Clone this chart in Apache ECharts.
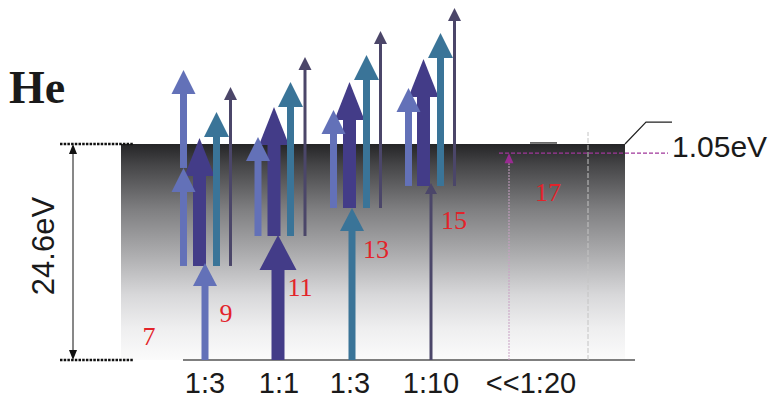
<!DOCTYPE html>
<html>
<head>
<meta charset="utf-8">
<script src="https://cdn.jsdelivr.net/npm/echarts@6/dist/echarts.min.js"></script>
<style>
  html, body { margin: 0; padding: 0; background: #fff; }
  #chart { width: 773px; height: 399px; }
</style>
</head>
<body>
<div id="chart"></div>
<script>
// Energy scale (eV) and threshold values
const ionization = 24.6;
const belowThreshold = 1.05;

// Field ratio categories under the diagram
const categories = ['1:3', '1:1', '1:3', '1:10', '<<1:20'];
const categoryPos = [8.4, 15.8, 22.9, 31.0, 41.0];

// First photon from the ground state (x position, top energy in eV, photon type)
const baseX = [8.4, 15.7, 23.1, 31.0, 38.8];
const baseTop = [11.05, 14.24, 17.31, 20.16, ionization - belowThreshold];
const baseKind = ['lb', 'db', 'teal', 'slate', 'mag'];

// Second photons, stacked on top of the first one
const stepX = [6.25, 6.25, 7.85, 9.55, 10.95,
               13.7, 15.3, 16.95, 18.4,
               21.25, 22.85, 24.55, 25.95,
               28.75, 30.25, 31.95, 33.35];
const stepFrom = [10.71, 21.87, 10.71, 10.71, 10.71,
                  14.12, 14.12, 14.12, 14.12,
                  17.31, 17.31, 17.31, 17.31,
                  19.82, 19.82, 19.82, 19.82];
const stepTo = [21.87, 33.03, 25.28, 28.24, 31.09,
                25.40, 28.81, 31.66, 34.51,
                28.47, 31.66, 34.74, 37.47,
                30.98, 34.28, 37.24, 40.09];
const stepKind = ['lb', 'lb', 'db', 'teal', 'slate',
                  'lb', 'db', 'teal', 'slate',
                  'lb', 'db', 'teal', 'slate',
                  'lb', 'db', 'teal', 'slate'];

// Harmonic order labels
const orders = ['7', '9', '11', '13', '15', '17'];
const orderX = [2.8, 10.5, 17.9, 25.5, 33.3, 42.7];
const orderE = [2.73, 5.24, 8.31, 12.64, 15.94, 19.13];

// Arrow styles
const kinds = ['lb', 'db', 'teal', 'slate', 'mag'];
const colors = { lb: '#6371b8', db: '#433c88', teal: '#3a7498', slate: '#4b4669', mag: '#9a2b92' };
const layer = { db: 1, lb: 2, teal: 3, slate: 4, mag: 5 };
const baseShape = {
  lb: { shaft: 7, headW: 24, headH: 23 },
  db: { shaft: 13, headW: 37, headH: 35 },
  teal: { shaft: 7, headW: 24, headH: 23 },
  slate: { shaft: 3, headW: 12, headH: 11 },
  mag: { shaft: 1, headW: 9, headH: 10, dotted: true, shaftColor: '#c9a0c4' }
};
const stepShape = {
  lb: { shaft: 7, headW: 24, headH: 24 },
  db: { shaft: 13, headW: 30, headH: 38 },
  teal: { shaft: 7, headW: 25, headH: 25 },
  slate: { shaft: 3, headW: 13, headH: 13 }
};

function arrowRenderer(shapes) {
  return function (params, api) {
    const x = api.value(0);
    const kind = kinds[api.value(3)];
    const s = shapes[kind];
    const p0 = api.coord([x, api.value(1)]);
    const p1 = api.coord([x, api.value(2)]);
    const cx = p0[0];
    const baseY = p1[1] + s.headH;
    const children = [];
    if (s.dotted) {
      children.push({
        type: 'line', z2: layer[kind],
        shape: { x1: cx, y1: p0[1], x2: cx, y2: baseY },
        style: { stroke: s.shaftColor, lineWidth: 1, lineDash: [2, 1] }
      });
    } else {
      children.push({
        type: 'rect', z2: layer[kind],
        shape: { x: cx - s.shaft / 2, y: baseY - 0.5, width: s.shaft, height: p0[1] - baseY + 0.5 },
        style: { fill: colors[kind] }
      });
    }
    children.push({
      type: 'polygon', z2: layer[kind],
      shape: { points: [[cx - s.headW / 2, baseY], [cx + s.headW / 2, baseY], [cx, p1[1]]] },
      style: { fill: colors[kind] }
    });
    return { type: 'group', children: children };
  };
}

function renderDecor(params, api) {
  const c = (x, e) => api.coord([x, e]);
  const bl = c(0, 0), tr = c(50.4, ionization);
  const ch = [];
  // continuum / bound-state gradient band
  ch.push({
    type: 'rect', z2: 0,
    shape: { x: bl[0], y: tr[1], width: tr[0] - bl[0], height: bl[1] - tr[1] },
    style: {
      fill: new echarts.graphic.LinearGradient(0, 0, 0, 1, [
        { offset: 0, color: '#252527' },
        { offset: 0.1, color: '#464648' },
        { offset: 0.3, color: '#7e7e80' },
        { offset: 0.5, color: '#aaaaac' },
        { offset: 0.7, color: '#d8d8da' },
        { offset: 0.85, color: '#eeeeef' },
        { offset: 1, color: '#fbfbfb' }
      ])
    }
  });
  // ground line
  const g0 = c(6.2, 0), g1 = c(51.4, 0);
  ch.push({ type: 'line', z2: 1, shape: { x1: g0[0], y1: g0[1], x2: g1[0], y2: g1[1] },
    style: { stroke: '#555', lineWidth: 1.5 } });
  // short mark at the top edge
  const m0 = c(40.9, 24.72), m1 = c(43.6, 24.72);
  ch.push({ type: 'line', z2: 1, shape: { x1: m0[0], y1: m0[1], x2: m1[0], y2: m1[1] },
    style: { stroke: '#444', lineWidth: 1.5 } });
  // dotted level markers on the left
  [0, ionization].forEach(function (e) {
    const a = c(-6.1, e), b = c(1.2, e);
    ch.push({ type: 'line', z2: 1, shape: { x1: a[0], y1: a[1], x2: b[0], y2: b[1] },
      style: { stroke: '#111', lineWidth: 2.5, lineDash: [2.5, 1.2] } });
  });
  // double-headed arrow for the ionization energy
  const d0 = c(-4.8, 0), d1 = c(-4.8, ionization);
  ch.push({ type: 'line', z2: 1, shape: { x1: d0[0], y1: d0[1] - 9, x2: d1[0], y2: d1[1] + 9 },
    style: { stroke: '#111', lineWidth: 1 } });
  ch.push({ type: 'polygon', z2: 1, shape: { points: [[d1[0] - 4, d1[1] + 10], [d1[0] + 4, d1[1] + 10], [d1[0], d1[1]]] },
    style: { fill: '#111' } });
  ch.push({ type: 'polygon', z2: 1, shape: { points: [[d0[0] - 4, d0[1] - 10], [d0[0] + 4, d0[1] - 10], [d0[0], d0[1]]] },
    style: { fill: '#111' } });
  const t = c(-7.75, 12.98);
  ch.push({ type: 'text', z2: 1, x: t[0], y: t[1], rotation: Math.PI / 2,
    style: { text: ionization + 'eV', fontSize: 31, fontFamily: 'Liberation Sans, Arial, sans-serif',
      fill: '#1a1a1a', align: 'center', verticalAlign: 'middle' } });
  // light vertical guide
  const v0 = c(46.7, 0), v1 = c(46.7, 25.97);
  ch.push({ type: 'line', z2: 1, shape: { x1: v0[0], y1: v0[1], x2: v1[0], y2: v1[1] },
    style: { stroke: '#c4c4c4', lineWidth: 1, lineDash: [5, 2] } });
  // level just below threshold
  const h0 = c(37.8, ionization - belowThreshold), h1 = c(54.7, ionization - belowThreshold);
  ch.push({ type: 'line', z2: 6, shape: { x1: h0[0], y1: h0[1], x2: h1[0], y2: h1[1] },
    style: { stroke: '#a0369a', lineWidth: 1.2, lineDash: [4, 2] } });
  // leader line to the gap label
  const l0 = c(50.4, ionization), l1 = c(52.5, 27.1), l2 = c(55.1, 27.1);
  ch.push({ type: 'polyline', z2: 1, shape: { points: [l0, l1, l2] },
    style: { stroke: '#222', lineWidth: 1.2, fill: null } });
  const gl = c(55.1, 24.37);
  ch.push({ type: 'text', z2: 1, x: gl[0], y: gl[1],
    style: { text: belowThreshold.toFixed(2) + 'eV', fontSize: 30, fontFamily: 'Liberation Sans, Arial, sans-serif',
      fill: '#1a1a1a', align: 'left', verticalAlign: 'middle' } });
  return { type: 'group', children: ch };
}

function renderOrder(params, api) {
  const p = api.coord([api.value(0), api.value(1)]);
  return {
    type: 'text', x: p[0], y: p[1],
    style: { text: orders[params.dataIndex], fontSize: 26, fontFamily: 'Liberation Serif, Times New Roman, serif',
      fill: '#e3232a', align: 'center', verticalAlign: 'middle' }
  };
}

const baseData = baseX.map((x, i) => [x, 0, baseTop[i], kinds.indexOf(baseKind[i])]);
const stepData = stepX.map((x, i) => [x, stepFrom[i], stepTo[i], kinds.indexOf(stepKind[i])]);
const orderData = orderX.map((x, i) => [x, orderE[i]]);

const chart = echarts.init(document.getElementById('chart'), null, { renderer: 'svg' });
chart.setOption({
  animation: false,
  backgroundColor: '#fff',
  title: {
    text: 'He', left: 4, top: 59,
    textStyle: { fontFamily: 'Liberation Serif, Times New Roman, serif', fontWeight: 'bold', fontSize: 46, color: '#1a1a1a' }
  },
  grid: { left: 121, right: 148, top: 0, bottom: 39 },
  xAxis: {
    type: 'value', min: 0, max: 50.4,
    axisLine: { show: false }, axisTick: { show: false }, splitLine: { show: false },
    axisLabel: {
      customValues: categoryPos,
      formatter: function (v) {
        let best = 0;
        categoryPos.forEach((p, i) => { if (Math.abs(p - v) < Math.abs(categoryPos[best] - v)) best = i; });
        return categories[best];
      },
      fontSize: 29, color: '#1a1a1a', fontFamily: 'Liberation Sans, Arial, sans-serif', margin: 8
    }
  },
  yAxis: { type: 'value', min: 0, max: 41, show: false },
  series: [
    { type: 'custom', renderItem: renderDecor, data: [[0, 0]], encode: { x: 0, y: 1 }, clip: false, z: 1, silent: true },
    { type: 'custom', renderItem: arrowRenderer(stepShape), data: stepData, encode: { x: 0, y: [1, 2] }, clip: false, z: 2 },
    { type: 'custom', renderItem: arrowRenderer(baseShape), data: baseData, encode: { x: 0, y: [1, 2] }, clip: false, z: 3 },
    { type: 'custom', renderItem: renderOrder, data: orderData, encode: { x: 0, y: 1 }, clip: false, z: 4 }
  ]
});
</script>
</body>
</html>
